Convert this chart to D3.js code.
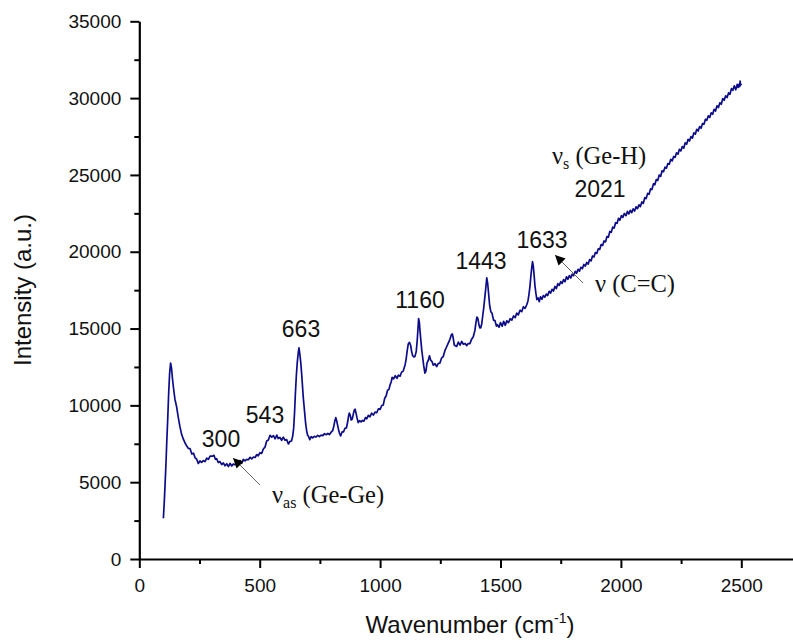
<!DOCTYPE html>
<html>
<head>
<meta charset="utf-8">
<script src="https://cdn.jsdelivr.net/npm/d3@7/dist/d3.min.js"></script>
<style>
  html, body { margin: 0; padding: 0; background: #fff; }
  svg { display: block; }
  .tick text { font-family: "Liberation Sans", Arial, sans-serif; }
</style>
</head>
<body>
<svg id="chart" width="793" height="640"></svg>
<script>
// Raman spectrum: wavenumber (cm-1) and intensity (a.u.)
const wavenumber = [
  100,104,108,111,114,118,122,126,130,134,138,143,148,155,162,169,176,183,190,197,
  204,211,218,225,232,238,245,252,259,266,273,280,287,294,300,305,310,316,321,328,
  335,342,349,356,363,370,377,384,390,397,404,411,418,425,432,439,446,453,460,467,
  474,481,488,494,501,508,515,522,529,536,543,550,557,564,571,577,584,591,598,605,
  612,619,626,632,637,641,645,648,652,656,660,663,667,671,674,678,681,684,688,691,
  695,699,703,708,714,720,727,734,741,748,755,762,769,776,783,790,797,803,808,812,
  816,819,823,827,831,836,842,848,854,860,865,869,872,876,880,884,889,893,896,900,
  904,909,915,921,927,933,939,945,951,958,965,972,979,986,993,1000,1007,1013,1019,1025,
  1031,1037,1041,1046,1050,1056,1063,1070,1076,1083,1089,1096,1100,1104,1108,1112,1117,1122,1127,1131,
  1135,1140,1145,1150,1154,1157,1160,1163,1166,1170,1173,1177,1181,1186,1190,1195,1200,1205,1210,1215,
  1221,1228,1235,1242,1248,1255,1262,1269,1276,1283,1290,1296,1300,1304,1308,1312,1318,1325,1332,1339,
  1346,1353,1360,1366,1373,1380,1387,1394,1398,1402,1406,1410,1414,1418,1422,1426,1430,1434,1438,1443,
  1447,1451,1455,1460,1465,1471,1477,1483,1487,1494,1500,1507,1513,1520,1526,1533,1540,1547,1554,1561,
  1567,1574,1581,1588,1595,1602,1609,1614,1618,1622,1626,1630,1633,1636,1640,1643,1647,1651,1656,1661,
  1666,1672,1678,1684,1690,1696,1702,1708,1714,1720,1726,1732,1738,1744,1750,1756,1762,1768,1774,1780,
  1786,1792,1798,1804,1810,1816,1822,1828,1834,1840,1846,1852,1858,1864,1870,1876,1882,1888,1894,1900,
  1906,1912,1918,1924,1930,1936,1942,1948,1954,1960,1966,1972,1978,1984,1990,1996,2002,2008,2014,2021,
  2027,2033,2039,2045,2051,2057,2063,2069,2075,2081,2087,2093,2099,2105,2111,2117,2123,2129,2135,2141,
  2147,2153,2159,2165,2171,2177,2183,2189,2195,2201,2207,2213,2219,2225,2231,2237,2243,2249,2255,2261,
  2267,2273,2279,2285,2291,2297,2303,2309,2315,2321,2327,2333,2339,2345,2351,2357,2363,2369,2375,2381,
  2387,2393,2399,2405,2411,2417,2423,2429,2435,2441,2447,2453,2459,2465,2471,2477,2483,2487,2490,2493,
  2495,2497,2500
];
const intensity = [
  2650,3800,5200,6300,7600,9100,10800,12100,12750,12400,11700,11000,10400,9900,9200,8600,8100,7800,7550,7350,
  7200,7100,6900,6800,6650,6450,6270,6300,6350,6340,6420,6500,6560,6620,6760,6700,6680,6550,6450,6350,
  6280,6230,6180,6130,6120,6080,6150,6100,6120,6200,6180,6280,6340,6300,6420,6450,6400,6520,6550,6600,
  6580,6680,6720,6770,6850,6950,7100,7350,7600,7800,8050,8000,7950,7880,8000,7920,7850,7800,7850,7790,
  7700,7570,7600,7750,8000,8500,9600,10700,11900,12800,13400,13750,13300,12700,12100,11200,10500,10000,9300,8800,
  8350,8050,7900,7850,7900,7950,7900,8000,7980,8050,8000,8100,8080,8150,8100,8180,8200,8350,8650,9000,
  9200,9050,8750,8450,8200,8070,8200,8350,8450,8600,8900,9300,9500,9350,9050,9100,9450,9700,9750,9500,
  9200,8950,8920,8980,8950,9050,9150,9200,9270,9320,9420,9450,9500,9590,9700,9800,9920,10100,10400,10680,
  10900,11100,11250,11600,11760,11800,11850,11820,11900,11980,12100,12300,12450,12650,13000,13500,14000,14100,13900,13500,
  13250,13150,13200,13500,14200,14900,15650,15400,14800,14100,13600,13100,12600,12100,12300,12700,13000,13150,13000,12800,
  12700,12650,12600,12650,12800,13000,13250,13500,13800,14050,14300,14600,14650,14350,14000,13800,13900,14050,14000,14100,
  14050,13950,13950,13950,14100,14250,14470,14900,15400,15750,15650,15300,15050,15050,15300,15800,16300,16900,17500,18300,
  17900,17200,16500,16200,15900,15650,15400,15250,15150,15200,15300,15250,15350,15300,15400,15500,15550,15650,15700,15800,
  15900,16000,16100,16200,16300,16400,16550,16800,17200,17700,18400,19000,19350,19100,18400,17800,17300,17000,16900,16850,
  16950,17000,17050,17150,17150,17250,17300,17400,17450,17550,17650,17700,17800,17900,17950,18050,18100,18150,18250,18300,
  18350,18400,18450,18550,18600,18700,18750,18850,18900,19000,19050,19150,19200,19300,19400,19500,19600,19750,19850,20000,
  20100,20250,20350,20500,20600,20750,20900,21050,21200,21350,21500,21650,21800,21950,22050,22150,22250,22350,22400,22450,
  22500,22550,22600,22650,22700,22750,22800,22900,22950,23050,23150,23250,23400,23550,23700,23850,24000,24150,24300,24450,
  24600,24750,24900,25000,25150,25300,25400,25550,25650,25800,25900,26000,26100,26250,26350,26450,26550,26650,26750,26850,
  27000,27100,27200,27300,27400,27500,27650,27750,27850,27950,28050,28150,28250,28400,28500,28650,28750,28850,28950,29050,
  29150,29250,29400,29500,29600,29700,29850,29950,30050,30150,30250,30350,30500,30600,30700,30650,30800,30700,30900,30750,
  31100,30850,30950
];

// Small hand-read noise pattern on top of the trace (same length as the data)
const noise = [
  0,0,0,0,0,0,0,0,0,0,0,0,0,0,0,0,0,0,0,0,
  0,80,-60,90,-70,60,-50,80,-60,70,-80,60,-70,80,-60,0,70,-60,80,-70,
  60,-80,70,-60,80,-60,70,-50,60,-70,80,-60,70,-80,60,-70,80,-60,70,-80,
  60,-70,80,-60,70,-80,60,-70,80,-60,0,-70,80,-60,70,-80,60,-70,80,-60,
  70,-80,60,-70,0,0,0,0,0,0,0,0,0,0,0,0,0,0,0,0,
  0,0,70,-80,60,-70,80,-60,70,-80,60,-70,80,-60,70,-80,60,0,0,0,
  0,0,0,0,0,-60,70,-80,60,-70,0,0,0,0,0,0,0,0,0,0,
  0,-70,80,-60,70,-80,60,-70,80,-60,70,-80,60,-70,80,-60,70,-80,60,-70,
  80,-60,70,-80,60,-70,80,-60,70,-80,60,-70,0,0,0,0,0,0,0,0,
  0,0,0,0,0,0,0,0,0,0,0,0,0,0,-80,60,-70,80,-60,70,
  -80,60,-70,80,-60,70,-80,60,0,0,0,0,0,0,-70,80,-60,70,-80,60,
  -70,80,-60,70,-80,60,0,0,0,0,0,0,0,0,0,0,0,0,0,0,
  0,0,0,-110,90,-100,120,-90,100,-110,90,-100,120,-90,100,-110,90,-100,120,-90,
  100,-110,90,-100,120,-90,0,0,0,0,0,0,0,0,0,0,0,-110,90,-100,
  120,-90,100,-110,90,-100,120,-90,100,-110,90,-100,120,-90,100,-110,90,-100,120,-90,
  100,-110,90,-100,120,-90,100,-110,90,-100,120,-90,100,-110,90,-100,120,-90,100,-110,
  90,-100,120,-90,100,-110,90,-100,120,-90,100,-110,90,-100,120,-90,100,-110,90,-100,
  120,-90,100,-110,90,-100,120,-90,100,-110,90,-100,120,-90,100,-110,90,-100,120,-90,
  100,-110,90,-100,120,-90,100,-110,90,-100,120,-90,100,-110,90,-100,120,-90,100,-110,
  90,-100,120,-90,100,-110,90,-100,120,-90,100,-110,90,-100,120,-90,100,-110,90,-100,
  120,-90,100,-110,90,-100,120,-90,100,-110,90,-100,120,-90,100,-110,90,0,0,0,
  0,0,0
];

const xTicks = [0, 500, 1000, 1500, 2000, 2500];
const xMinorTicks = [250, 750, 1250, 1750, 2250];
const yTicks = [0, 5000, 10000, 15000, 20000, 25000, 30000, 35000];
const yMinorTicks = [2500, 7500, 12500, 17500, 22500, 27500, 32500];

// Peak positions that are labelled above the trace
const peakLabels = ["300", "543", "663", "1160", "1443", "1633", "2021"];

const svg = d3.select("#chart");

const x = d3.scaleLinear().domain([0, 2750]).range([139.3, 801.5]);
const y = d3.scaleLinear().domain([0, 35000]).range([559, 21.3]);

// Axes: major ticks with labels, minor ticks without
function styleAxis(g) {
  g.select(".domain").attr("stroke", "#000").attr("stroke-width", 2.2);
  g.selectAll(".tick line").attr("stroke", "#000").attr("stroke-width", 2);
  g.selectAll(".tick text").attr("fill", "#111").style("font-size", "19px");
}

const xAxis = svg.append("g").attr("transform", `translate(0,${y(0)})`)
  .call(d3.axisBottom(x).tickValues(xTicks).tickFormat(d3.format("d")).tickSize(9).tickPadding(11).tickSizeOuter(0));
styleAxis(xAxis);
svg.append("g").attr("transform", `translate(0,${y(0)})`)
  .call(d3.axisBottom(x).tickValues(xMinorTicks).tickFormat("").tickSize(5).tickSizeOuter(0))
  .call(g => { g.select(".domain").remove(); g.selectAll("line").attr("stroke", "#000").attr("stroke-width", 2); });

const yAxis = svg.append("g").attr("transform", `translate(${x(0)},0)`)
  .call(d3.axisLeft(y).tickValues(yTicks).tickFormat(d3.format("d")).tickSize(9).tickPadding(9).tickSizeOuter(0));
styleAxis(yAxis);
svg.append("g").attr("transform", `translate(${x(0)},0)`)
  .call(d3.axisLeft(y).tickValues(yMinorTicks).tickFormat("").tickSize(5).tickSizeOuter(0))
  .call(g => { g.select(".domain").remove(); g.selectAll("line").attr("stroke", "#000").attr("stroke-width", 2); });

// Axis titles
svg.append("text")
  .attr("x", 470).attr("y", 633)
  .attr("text-anchor", "middle")
  .style("font-family", "'Liberation Sans', Arial, sans-serif")
  .style("font-size", "24px").attr("fill", "#111")
  .call(t => {
    t.append("tspan").text("Wavenumber (cm");
    t.append("tspan").attr("dy", -10).style("font-size", "14px").text("-1");
    t.append("tspan").attr("dy", 10).text(")");
  });

svg.append("text")
  .attr("transform", "translate(31,290) rotate(-90)")
  .attr("text-anchor", "middle")
  .style("font-family", "'Liberation Sans', Arial, sans-serif")
  .style("font-size", "24px").attr("fill", "#111")
  .text("Intensity (a.u.)");

// Spectrum trace
const series = wavenumber.map((w, i) => ({ w, v: intensity[i] + (noise[i] || 0) }));
const line = d3.line().x(d => x(d.w)).y(d => y(d.v));
svg.append("path")
  .datum(series)
  .attr("fill", "none")
  .attr("stroke", "#0c0c8a")
  .attr("stroke-width", 1.7)
  .attr("stroke-linejoin", "round")
  .attr("d", line);

// Peak labels
const sans = "'Liberation Sans', Arial, sans-serif";
const peakLayout = [
  { x: 221, y: 447 }, { x: 265, y: 423 }, { x: 301, y: 337 }, { x: 420, y: 308 },
  { x: 481, y: 269 }, { x: 542, y: 248 }, { x: 600, y: 197 }
];
svg.selectAll("text.peak")
  .data(peakLabels)
  .join("text")
  .attr("class", "peak")
  .attr("x", (d, i) => peakLayout[i].x)
  .attr("y", (d, i) => peakLayout[i].y)
  .attr("text-anchor", "middle")
  .style("font-family", sans)
  .style("font-size", "23px")
  .attr("fill", "#111")
  .text(d => d);

// Band assignments
const serif = "'Liberation Serif', 'Times New Roman', serif";
function bandLabel(px, py, sub, rest) {
  const t = svg.append("text").attr("x", px).attr("y", py)
    .style("font-family", serif).style("font-size", "24.5px").attr("fill", "#111");
  t.append("tspan").text("\u03BD");
  if (sub) t.append("tspan").attr("dy", 5).style("font-size", "16px").text(sub);
  t.append("tspan").attr("dy", sub ? -5 : 0).text(rest);
}
bandLabel(272, 503, "as", " (Ge-Ge)");
bandLabel(595, 292, "", " (C=C)");
bandLabel(552, 164, "s", " (Ge-H)");

// Arrows pointing at the bands
const defs = svg.append("defs");
defs.append("marker")
  .attr("id", "head")
  .attr("viewBox", "0 0 10 10")
  .attr("refX", 10).attr("refY", 5)
  .attr("markerWidth", 12).attr("markerHeight", 10)
  .attr("markerUnits", "userSpaceOnUse")
  .attr("orient", "auto")
  .append("path").attr("d", "M0,0 L10,5 L0,10 Z").attr("fill", "#000");

[[260, 485, 233, 458], [583, 283, 555, 255]].forEach(([x1, y1, x2, y2]) => {
  svg.append("line")
    .attr("x1", x1).attr("y1", y1).attr("x2", x2).attr("y2", y2)
    .attr("stroke", "#666").attr("stroke-width", 1)
    .attr("marker-end", "url(#head)");
});
</script>
</body>
</html>
